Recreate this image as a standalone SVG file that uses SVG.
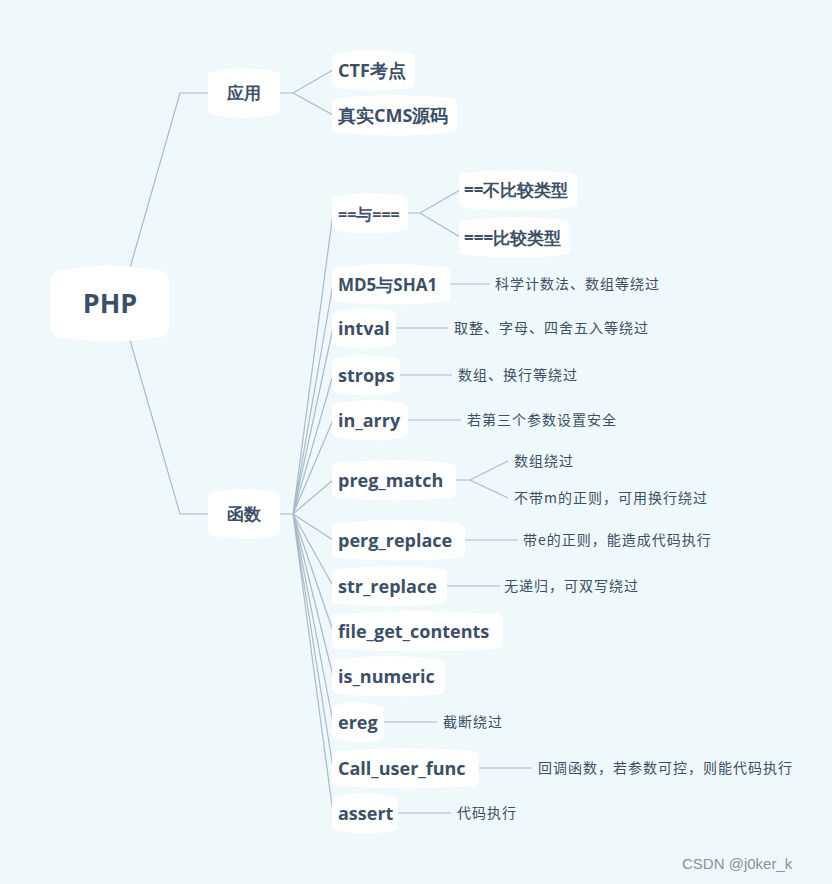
<svg xmlns="http://www.w3.org/2000/svg" width="832" height="884" viewBox="0 0 832 884">
<style>
.n{fill:#fff}
.t{font-family:"Open Sans","Liberation Sans",sans-serif;font-weight:700;fill:#3d4f66}
.l{font-family:"Noto Sans CJK SC","Open Sans",sans-serif;font-size:14px;letter-spacing:1px;fill:#3d4f66}
.c{stroke:#a9bac8;stroke-width:1.2;fill:none}
</style>
<rect width="832" height="884" fill="#eff8fb"/>
<g id="connectors" class="c">
<path d="M130 268 L180 93 H208 M130 340 L180 514 H208"/>
<path d="M280 93 H293 L333 70 M293 93 L333 115"/>
<path d="M280 514 H293 M293 514 L333 213 M293 514 L333 284 M293 514 L333 328 M293 514 L333 375 M293 514 L333 420 M293 514 L333 480 M293 514 L333 540 M293 514 L333 586 M293 514 L333 631 M293 514 L333 676 M293 514 L333 722 M293 514 L333 768 M293 514 L333 813"/>
<path d="M408 213 H420 L460 190 M420 213 L460 237"/>
<path d="M450 284 H490 M396 328 H448 M400 375 H452 M408 420 H461 M456 480 H470 L508 461 M470 480 L508 498 M465 540 H518 M447 586 H500 M384 722 H437 M479 768 H532 M398 813 H451"/>
</g>
<g id="PHP"><path class="n" d="M50 280 Q50 273 60 271 Q110 260 159 271 Q169 273 169 280 V328 Q169 335 159 337 Q110 346 60 337 Q50 335 50 328 Z"/><text class="t" x="110" y="313" font-size="27" font-weight="800" text-anchor="middle">PHP</text></g>
<g id="yingyong"><path class="n" d="M208 76 Q208 72 215 71 Q244 65 273 71 Q280 72 280 76 V110 Q280 114 273 115 Q244 121 215 115 Q208 114 208 110 Z"/><text class="t" x="244" y="99" font-size="17" text-anchor="middle">应用</text></g>
<g id="hanshu"><path class="n" d="M208 497 Q208 493 215 492 Q244 486 273 492 Q280 493 280 497 V531 Q280 535 273 536 Q244 542 215 536 Q208 535 208 531 Z"/><text class="t" x="244" y="520" font-size="17" text-anchor="middle">函数</text></g>
<g id="ctf"><path class="n" d="M332 58 Q332 54 339 53 Q373 47 408 53 Q415 54 415 58 V83 Q415 87 408 88 Q373 93 339 88 Q332 87 332 83 Z"/><text class="t" x="338" y="77" font-size="18">CTF考点</text></g>
<g id="cms"><path class="n" d="M332 103 Q332 99 339 98 Q394 92 450 98 Q457 99 457 103 V128 Q457 132 450 133 Q394 138 339 133 Q332 132 332 128 Z"/><text class="t" x="338" y="122" font-size="18">真实CMS源码</text></g>
<g id="eq"><path class="n" d="M332 201 Q332 197 339 196 Q370 190 401 196 Q408 197 408 201 V226 Q408 230 401 231 Q370 236 339 231 Q332 230 332 226 Z"/><text class="t" x="338" y="220" font-size="16">==与===</text></g>
<g id="eq1"><path class="n" d="M459 178 Q459 174 466 173 Q518 167 570 173 Q577 174 577 178 V203 Q577 207 570 208 Q518 213 466 208 Q459 207 459 203 Z"/><text class="t" x="464" y="196" font-size="17">==不比较类型</text></g>
<g id="eq2"><path class="n" d="M459 225 Q459 221 466 220 Q514 214 563 220 Q570 221 570 225 V250 Q570 254 563 255 Q514 260 466 255 Q459 254 459 250 Z"/><text class="t" x="464" y="244" font-size="17">===比较类型</text></g>
<g id="md5"><path class="n" d="M332 272 Q332 268 339 267 Q391 261 443 267 Q450 268 450 272 V297 Q450 301 443 302 Q391 307 339 302 Q332 301 332 297 Z"/><text class="t" x="338" y="291" font-size="17">MD5与SHA1</text></g>
<g id="intval"><path class="n" d="M332 316 Q332 312 339 311 Q364 305 389 311 Q396 312 396 316 V341 Q396 345 389 346 Q364 351 339 346 Q332 345 332 341 Z"/><text class="t" x="338" y="335" font-size="18">intval</text></g>
<g id="strops"><path class="n" d="M332 363 Q332 359 339 358 Q366 352 393 358 Q400 359 400 363 V388 Q400 392 393 393 Q366 398 339 393 Q332 392 332 388 Z"/><text class="t" x="338" y="382" font-size="18">strops</text></g>
<g id="inarry"><path class="n" d="M332 408 Q332 404 339 403 Q370 397 401 403 Q408 404 408 408 V433 Q408 437 401 438 Q370 443 339 438 Q332 437 332 433 Z"/><text class="t" x="338" y="427" font-size="18">in_arry</text></g>
<g id="pregmatch"><path class="n" d="M332 468 Q332 464 339 463 Q394 457 449 463 Q456 464 456 468 V493 Q456 497 449 498 Q394 503 339 498 Q332 497 332 493 Z"/><text class="t" x="338" y="487" font-size="18">preg_match</text></g>
<g id="pergreplace"><path class="n" d="M332 528 Q332 524 339 523 Q398 517 458 523 Q465 524 465 528 V553 Q465 557 458 558 Q398 563 339 558 Q332 557 332 553 Z"/><text class="t" x="338" y="547" font-size="18">perg_replace</text></g>
<g id="strreplace"><path class="n" d="M332 574 Q332 570 339 569 Q390 563 440 569 Q447 570 447 574 V599 Q447 603 440 604 Q390 609 339 604 Q332 603 332 599 Z"/><text class="t" x="338" y="593" font-size="18">str_replace</text></g>
<g id="fgc"><path class="n" d="M332 619 Q332 615 339 614 Q418 608 496 614 Q503 615 503 619 V644 Q503 648 496 649 Q418 654 339 649 Q332 648 332 644 Z"/><text class="t" x="338" y="638" font-size="18">file_get_contents</text></g>
<g id="isnumeric"><path class="n" d="M332 664 Q332 660 339 659 Q388 653 438 659 Q445 660 445 664 V689 Q445 693 438 694 Q388 699 339 694 Q332 693 332 689 Z"/><text class="t" x="338" y="683" font-size="18">is_numeric</text></g>
<g id="ereg"><path class="n" d="M332 710 Q332 706 339 705 Q358 699 377 705 Q384 706 384 710 V735 Q384 739 377 740 Q358 745 339 740 Q332 739 332 735 Z"/><text class="t" x="338" y="729" font-size="18">ereg</text></g>
<g id="cuf"><path class="n" d="M332 756 Q332 752 339 751 Q406 745 472 751 Q479 752 479 756 V781 Q479 785 472 786 Q406 791 339 786 Q332 785 332 781 Z"/><text class="t" x="338" y="775" font-size="18">Call_user_func</text></g>
<g id="assert"><path class="n" d="M332 801 Q332 797 339 796 Q365 790 391 796 Q398 797 398 801 V826 Q398 830 391 831 Q365 836 339 831 Q332 830 332 826 Z"/><text class="t" x="338" y="820" font-size="18">assert</text></g>
<g id="leaves">
<text class="l" x="495" y="289">科学计数法、数组等绕过</text>
<text class="l" x="454" y="333">取整、字母、四舍五入等绕过</text>
<text class="l" x="458" y="380">数组、换行等绕过</text>
<text class="l" x="467" y="425">若第三个参数设置安全</text>
<text class="l" x="514" y="466">数组绕过</text>
<text class="l" x="514" y="503">不带m的正则，可用换行绕过</text>
<text class="l" x="523" y="545">带e的正则，能造成代码执行</text>
<text class="l" x="504" y="591">无递归，可双写绕过</text>
<text class="l" x="443" y="727">截断绕过</text>
<text class="l" x="538" y="773">回调函数，若参数可控，则能代码执行</text>
<text class="l" x="457" y="818">代码执行</text>
</g>
<text x="682" y="869" font-family="Liberation Sans,sans-serif" font-size="15" fill="#8a9099">CSDN @j0ker_k</text>
</svg>
